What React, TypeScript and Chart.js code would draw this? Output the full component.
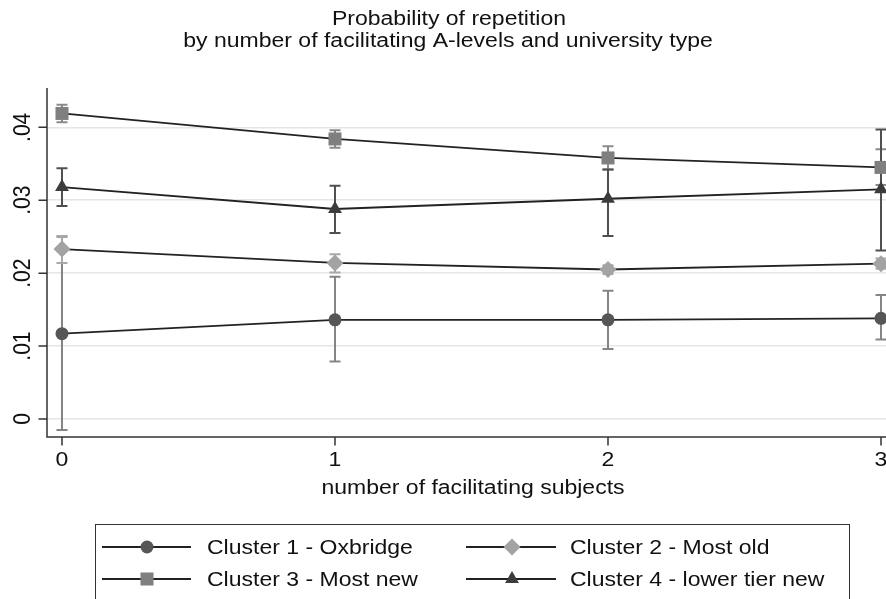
import React, { useEffect, useRef } from 'react';
import { Chart, registerables } from 'chart.js';

Chart.register(...registerables);

// ---------- data ----------
const xValues = [0, 1, 2, 3];
const xTickLabels = ['0', '1', '2', '3'];
const yTickValues = [0, 0.01, 0.02, 0.03, 0.04];
const yTickLabels = ['0', '.01', '.02', '.03', '.04'];

const titleLines = ['Probability of repetition', 'by number of facilitating A-levels and university type'];
const xAxisTitle = 'number of facilitating subjects';
const seriesNames = ['Cluster 1 - Oxbridge', 'Cluster 2 - Most old', 'Cluster 3 - Most new', 'Cluster 4 - lower tier new'];

const c1Mean = [0.0117, 0.0136, 0.0136, 0.0138];
const c1Low = [-0.0015, 0.0079, 0.0096, 0.0109];
const c1High = [0.025, 0.0195, 0.0176, 0.017];

const c2Mean = [0.0233, 0.0214, 0.0205, 0.0213];
const c2Low = [0.0214, 0.0201, 0.0199, 0.0206];
const c2High = [0.0251, 0.0226, 0.0211, 0.022];

const c3Mean = [0.0419, 0.0384, 0.0358, 0.0345];
const c3Low = [0.0407, 0.0372, 0.0342, 0.0321];
const c3High = [0.0431, 0.0396, 0.0374, 0.037];

const c4Mean = [0.0318, 0.0288, 0.0302, 0.0315];
const c4Low = [0.0292, 0.0255, 0.0251, 0.0231];
const c4High = [0.0344, 0.032, 0.0342, 0.0397];

// ---------- styles ----------
const markerStyles = ['circle', 'rectRot', 'rect', 'triangle'];
const markerRadii = [6.5, 8.5, 9.2, 8];
const markerColors = ['#565656', '#a3a3a3', '#7f7f7f', '#3c3c3c'];
const ciColors = ['#858585', '#a8a8a8', '#8a8a8a', '#505050'];
const lineColor = '#222222';
const FONT = '"Liberation Sans", Arial, sans-serif';
const FSIZE = 19.5;
const SX = 1.18;

const means = [c1Mean, c2Mean, c3Mean, c4Mean];
const lows = [c1Low, c2Low, c3Low, c4Low];
const highs = [c1High, c2High, c3High, c4High];

function drawMarker(ctx: CanvasRenderingContext2D, style: string, x: number, y: number, r: number, color: string) {
  ctx.save();
  ctx.fillStyle = color;
  ctx.beginPath();
  if (style === 'circle') {
    ctx.arc(x, y, r, 0, Math.PI * 2);
  } else if (style === 'rect') {
    const s = Math.SQRT1_2 * r;
    ctx.rect(x - s, y - s, 2 * s, 2 * s);
  } else if (style === 'rectRot') {
    ctx.moveTo(x, y - r);
    ctx.lineTo(x + r, y);
    ctx.lineTo(x, y + r);
    ctx.lineTo(x - r, y);
    ctx.closePath();
  } else if (style === 'triangle') {
    let a = 0;
    ctx.moveTo(x + Math.sin(a) * r, y - Math.cos(a) * r);
    a += (2 * Math.PI) / 3;
    ctx.lineTo(x + Math.sin(a) * r, y - Math.cos(a) * r);
    a += (2 * Math.PI) / 3;
    ctx.lineTo(x + Math.sin(a) * r, y - Math.cos(a) * r);
    ctx.closePath();
  }
  ctx.fill();
  ctx.restore();
}

function drawText(ctx: CanvasRenderingContext2D, text: string, x: number, y: number, align: CanvasTextAlign) {
  ctx.save();
  ctx.translate(x, y);
  ctx.scale(SX, 1);
  ctx.font = `${FSIZE}px ${FONT}`;
  ctx.fillStyle = '#111111';
  ctx.textAlign = align;
  ctx.textBaseline = 'alphabetic';
  ctx.fillText(text, 0, 0);
  ctx.restore();
}

const customPlugin = {
  id: 'customDecor',
  beforeDatasetsDraw(chart: any) {
    const ctx: CanvasRenderingContext2D = chart.ctx;
    const xs = chart.scales.x;
    const ys = chart.scales.y;
    ctx.save();
    ctx.lineWidth = 2;
    for (let s = 0; s < means.length; s++) {
      ctx.strokeStyle = ciColors[s];
      for (let i = 0; i < xValues.length; i++) {
        const px = xs.getPixelForValue(xValues[i]);
        const yl = ys.getPixelForValue(lows[s][i]);
        const yh = ys.getPixelForValue(highs[s][i]);
        ctx.beginPath();
        ctx.moveTo(px, yl);
        ctx.lineTo(px, yh);
        ctx.moveTo(px - 5.5, yl);
        ctx.lineTo(px + 5.5, yl);
        ctx.moveTo(px - 5.5, yh);
        ctx.lineTo(px + 5.5, yh);
        ctx.stroke();
      }
    }
    ctx.restore();
  },
  afterDraw(chart: any) {
    const ctx: CanvasRenderingContext2D = chart.ctx;
    const { left, right, top, bottom } = chart.chartArea;
    const xs = chart.scales.x;
    const ys = chart.scales.y;
    ctx.save();
    // axes
    ctx.strokeStyle = '#333333';
    ctx.lineWidth = 1.5;
    ctx.beginPath();
    ctx.moveTo(left, top);
    ctx.lineTo(left, bottom);
    ctx.lineTo(right, bottom);
    yTickValues.forEach((v) => {
      const y = ys.getPixelForValue(v);
      ctx.moveTo(left - 8.5, y);
      ctx.lineTo(left, y);
    });
    xValues.forEach((v) => {
      const x = xs.getPixelForValue(v);
      ctx.moveTo(x, bottom);
      ctx.lineTo(x, bottom + 8.5);
    });
    ctx.stroke();

    // y tick labels (rotated)
    yTickValues.forEach((v, i) => {
      const y = ys.getPixelForValue(v);
      ctx.save();
      ctx.translate(30, y);
      ctx.rotate(-Math.PI / 2);
      ctx.scale(1.08, SX);
      ctx.font = `${FSIZE}px ${FONT}`;
      ctx.fillStyle = '#111111';
      ctx.textAlign = 'center';
      ctx.textBaseline = 'alphabetic';
      ctx.fillText(yTickLabels[i], 0, 0);
      ctx.restore();
    });

    // x tick labels
    xValues.forEach((v, i) => {
      const x = xs.getPixelForValue(v);
      drawText(ctx, xTickLabels[i], x, 466, 'center');
    });
    drawText(ctx, xAxisTitle, 473, 494, 'center');

    // title
    drawText(ctx, titleLines[0], 449, 25, 'center');
    drawText(ctx, titleLines[1], 448, 47, 'center');

    // legend
    ctx.strokeStyle = '#333333';
    ctx.lineWidth = 1;
    ctx.strokeRect(95.5, 524.5, 754, 90);
    const colX = [[102, 147, 191, 207], [466, 512, 556, 570]];
    const rowY = [547, 579];
    for (let s = 0; s < 4; s++) {
      const col = colX[s % 2];
      const y = rowY[Math.floor(s / 2)];
      ctx.strokeStyle = lineColor;
      ctx.lineWidth = 1.8;
      ctx.beginPath();
      ctx.moveTo(col[0], y);
      ctx.lineTo(col[2], y);
      ctx.stroke();
      drawMarker(ctx, markerStyles[s], col[1], y, markerRadii[s], markerColors[s]);
      drawText(ctx, seriesNames[s], col[3], y + 7, 'left');
    }
    ctx.restore();
  },
};

export default function App() {
  const ref = useRef<HTMLCanvasElement>(null);
  useEffect(() => {
    document.body.style.margin = '0';
    if (!ref.current) return;
    const chart = new Chart(ref.current, {
      type: 'line',
      data: {
        datasets: means.map((m, s) => ({
          label: seriesNames[s],
          data: xValues.map((x, i) => ({ x, y: m[i] })),
          borderColor: lineColor,
          borderWidth: 1.8,
          pointStyle: markerStyles[s] as any,
          pointRadius: markerRadii[s],
          pointHoverRadius: markerRadii[s],
          pointBackgroundColor: markerColors[s],
          pointBorderColor: markerColors[s],
          pointBorderWidth: 0,
          tension: 0,
          fill: false,
          clip: false as any,
        })),
      },
      options: {
        animation: false,
        responsive: false,
        devicePixelRatio: 1,
        events: [],
        layout: { autoPadding: false, padding: { left: 47, top: 88, right: 0, bottom: 162 } },
        plugins: { legend: { display: false }, title: { display: false }, tooltip: { enabled: false } },
        scales: {
          x: {
            type: 'linear',
            min: -0.0549,
            max: 3.0183,
            display: false,
          },
          y: {
            type: 'linear',
            min: -0.00247,
            max: 0.04539,
            afterBuildTicks: (scale: any) => {
              scale.ticks = yTickValues.map((v) => ({ value: v }));
            },
            afterFit: (scale: any) => {
              scale.width = 0;
            },
            ticks: { display: false },
            border: { display: false },
            grid: { drawTicks: false, color: '#e6e6e6', lineWidth: 1.5 },
          },
        },
      },
      plugins: [customPlugin],
    });
    return () => chart.destroy();
  }, []);
  return (
    <div style={{ position: 'fixed', left: 0, top: 0, width: 886, height: 599, background: '#ffffff' }}>
      <canvas ref={ref} width={886} height={599} style={{ display: 'block' }} />
    </div>
  );
}
